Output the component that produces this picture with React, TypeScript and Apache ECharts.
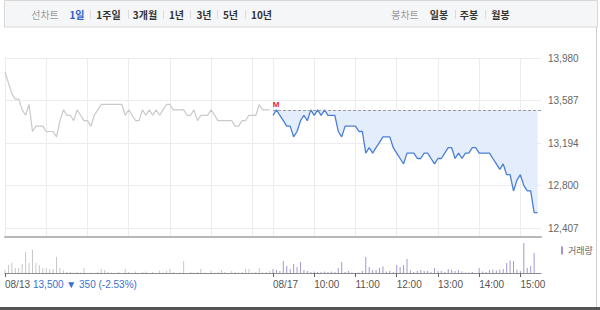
import React, { useEffect, useRef } from 'react';
import * as echarts from 'echarts';

// ---- data ----
const days = ['08/13', '08/17'];
const prevDayClose = 13850; // close of the session before 08/13
const yMin = 12407;
const yMax = 13980;
const hourLabels = ['10:00', '11:00', '12:00', '13:00', '14:00', '15:00'];
const tabLeft = ['1일', '1주일', '3개월', '1년', '3년', '5년', '10년'];
const tabRight = ['일봉', '주봉', '월봉'];

// 5-minute prices, 08/13 (09:00 .. 15:25)
const day1Prices = [
  13850, 13750, 13650, 13600, 13600, 13500, 13450, 13550, 13300, 13350,
  13350, 13350, 13300, 13300, 13300, 13250, 13400, 13500, 13450, 13450,
  13400, 13500, 13450, 13400, 13400, 13350, 13450, 13500, 13550, 13550,
  13550, 13550, 13550, 13550, 13550, 13450, 13500, 13450, 13400, 13400,
  13500, 13450, 13500, 13450, 13500, 13450, 13500, 13550, 13550, 13500,
  13500, 13500, 13500, 13450, 13450, 13500, 13400, 13450, 13450, 13450,
  13500, 13450, 13400, 13400, 13400, 13400, 13400, 13350, 13350, 13400,
  13400, 13450, 13450, 13450, 13550, 13500, 13500, 13500,
];
// 5-minute prices, 08/17 (09:00 .. 15:25)
const day2Prices = [
  13450, 13500, 13450, 13400, 13350, 13350, 13250, 13300, 13400, 13450,
  13400, 13500, 13450, 13500, 13450, 13500, 13450, 13450, 13450, 13300,
  13250, 13350, 13350, 13350, 13350, 13300, 13300, 13100, 13150, 13100,
  13150, 13200, 13250, 13250, 13250, 13150, 13100, 13050, 13000, 13100,
  13100, 13100, 13050, 13050, 13100, 13100, 13050, 13000, 13050, 13050,
  13100, 13150, 13150, 13050, 13100, 13050, 13100, 13100, 13150, 13150,
  13100, 13100, 13100, 13100, 13050, 13000, 12950, 13000, 12900, 12900,
  12750, 12850, 12900, 12800, 12750, 12750, 12550, 12550,
];
// relative volume per 5 minutes
const day1Volume = [
  3.3, 8, 10, 5, 5, 9, 21, 10, 23, 10,
  8, 5, 5, 4, 4, 16, 5, 2.5, 1, 1,
  0.5, 1, 0.5, 5, 0, 0.5, 0, 1, 4, 3,
  1, 0.5, 0, 1, 0, 4, 1, 0, 1.5, 0,
  1, 1.5, 0, 1, 0, 2.5, 0.5, 2, 4, 1,
  0, 0.5, 12, 0, 1, 0.5, 1, 4, 0.5, 0,
  2.5, 0.5, 1, 3, 1, 0, 2, 1, 0.5, 1,
  4, 4, 0.5, 1, 5, 0.5, 1, 2,
];
const day2Volume = [
  4, 3, 2, 12, 7, 4, 9, 6, 11, 3,
  2, 1, 1.5, 1, 1, 1.5, 1, 1.5, 1, 5,
  11, 1, 2, 0.5, 0, 0.5, 2, 16, 6, 3,
  3, 5, 6.5, 1.5, 2, 1, 8, 6, 8, 14,
  2.5, 1, 2, 3, 2, 2, 1, 5, 2, 2,
  1, 4, 3.5, 2, 3, 1.5, 0.5, 0.5, 1, 0,
  5, 1.5, 1, 3, 3.5, 2.5, 3.5, 4, 10, 12.5,
  12, 3.5, 2, 30, 5, 7, 20, 0,
];

// ---- derived ----
const binsPerDay = 78;
const pad = (n: number) => String(n).padStart(2, '0');
const fmtTime = (m: number) => `${pad(Math.floor(m / 60))}:${pad(m % 60)}`;
const categories: string[] = [];
days.forEach((d) => {
  for (let k = 0; k < binsPerDay; k++) categories.push(`${d} ${fmtTime(540 + 5 * k)}`);
});
categories.push(`${days[1]} ${fmtTime(540 + 5 * binsPerDay)}`);
const N = categories.length;

const toT = (p: number) => p - yMin;
const base = day1Prices[day1Prices.length - 1];
const day1Line = categories.map((_, i) => (i < day1Prices.length ? toT(day1Prices[i]) : null));
const d2 = (i: number) => (i >= binsPerDay && i - binsPerDay < day2Prices.length ? day2Prices[i - binsPerDay] : null);
const day2Line = categories.map((_, i) => { const v = d2(i); return v == null ? null : toT(v); });
const fillUpper = categories.map((_, i) => { const v = d2(i); return v == null ? null : base - v; });
const vol1 = categories.map((_, i) => (i < day1Volume.length ? day1Volume[i] : null));
const vol2 = categories.map((_, i) => (i >= binsPerDay && i - binsPerDay < day2Volume.length ? day2Volume[i - binsPerDay] : null));
const dayHigh = Math.max(...day2Prices);

const change = base - prevDayClose;
const pct = (change / prevDayClose) * 100;
const infoText = `${base.toLocaleString('en-US')} ${change < 0 ? '▼' : '▲'} ${Math.abs(change)} (${pct.toFixed(2)}%)`;

const isHour = (val: string) => val.split(' ')[1].endsWith(':00');
const splitFn = (_i: number, val: string) => isHour(val);
const labelFn = (_i: number, val: string) => {
  const [d, t] = val.split(' ');
  return t === '09:00' || (d === days[1] && hourLabels.includes(t));
};

const numFont = "'Liberation Sans', Arial, sans-serif";
const krFont = "'Noto Sans CJK KR', 'Liberation Sans', sans-serif";

export default function App() {
  const ref = useRef<HTMLDivElement>(null);
  useEffect(() => {
    if (!ref.current) return;
    const chart = echarts.init(ref.current, undefined, { renderer: 'svg' });

    const leftCenters = [77, 108.5, 145, 176.5, 204, 230.5, 261.5];
    const leftSeps = [90, 128, 163, 190, 217, 245];
    const rightCenters = [439, 469, 500.5];
    const rightSeps = [455, 485];
    const txt = (text: string, x: number, y: number, fill: string, font: string, align = 'center') => ({
      type: 'text', silent: true,
      style: { text, x, y, fill, font, align, verticalAlign: 'middle', textAlign: align, textVerticalAlign: 'middle' },
    });
    const graphics: any[] = [
      { type: 'rect', shape: { x: 4.5, y: 0.5, width: 593, height: 26.5 }, style: { fill: '#f5f6f8', stroke: '#d8d8d8', lineWidth: 1 }, silent: true },
      txt('선차트', 45, 14.5, '#9a9a9a', `10px ${krFont}`),
      txt('봉차트', 405, 14.5, '#9a9a9a', `10px ${krFont}`),
      { type: 'line', shape: { x1: 596.5, y1: 27, x2: 596.5, y2: 307 }, style: { stroke: '#d0d0d0', lineWidth: 1 }, silent: true },
      { type: 'rect', shape: { x: 0, y: 307, width: 600, height: 3 }, style: { fill: '#555' }, silent: true },
      txt(infoText, 33, 284.5, '#3a6fcf', `10px ${numFont}`, 'left'),
    ];
    tabLeft.forEach((t, i) => graphics.push(txt(t, leftCenters[i], 14.5, i === 0 ? '#2b5fc9' : '#333', `bold 10px ${krFont}`)));
    tabRight.forEach((t, i) => graphics.push(txt(t, rightCenters[i], 14.5, '#333', `bold 10px ${krFont}`)));
    [...leftSeps, ...rightSeps].forEach((x) => {
      graphics.push({ type: 'line', shape: { x1: x + 0.5, y1: 10, x2: x + 0.5, y2: 19 }, style: { stroke: '#dcdcdc', lineWidth: 1 }, silent: true });
    });

    chart.setOption({
      animation: false,
      grid: [
        { left: 5, right: 59, top: 58, height: 179 }, // frame: vertical lines + bottom axis
        { left: 5, right: 59, top: 58, height: 170 }, // price scale
        { left: 5, right: 59, top: 240, height: 33 }, // volume
      ],
      legend: {
        data: ['거래량'],
        left: 556,
        top: 241,
        icon: 'rect',
        itemWidth: 2,
        itemHeight: 8,
        itemGap: 4,
        textStyle: { fontSize: 9, color: '#666', fontFamily: krFont },
        selectedMode: false,
      },
      xAxis: [
        {
          type: 'category', gridIndex: 0, data: categories, boundaryGap: false,
          axisLine: { lineStyle: { color: '#b8b8b8', width: 2 } },
          axisTick: { show: false }, axisLabel: { show: false },
          splitLine: { show: true, interval: splitFn, lineStyle: { color: '#ececec', width: 1 } },
        },
        { type: 'category', gridIndex: 1, data: categories, boundaryGap: false, show: false },
        {
          type: 'category', gridIndex: 2, data: categories, boundaryGap: false,
          axisLine: { lineStyle: { color: '#8c8c8c', width: 1 } },
          axisTick: { show: true, interval: labelFn, length: 4, lineStyle: { color: '#666' } },
          axisLabel: {
            interval: labelFn,
            formatter: (val: string) => { const [d, t] = val.split(' '); return t === '09:00' ? d : t; },
            color: '#555', fontSize: 10, fontFamily: numFont, align: 'left', margin: 6,
          },
          splitLine: { show: false },
        },
      ],
      yAxis: [
        { type: 'value', gridIndex: 0, min: 0, max: 1, show: false },
        {
          type: 'value', gridIndex: 1, position: 'right',
          min: 0, max: toT(yMax), interval: (yMax - yMin) / 4,
          axisLine: { show: false }, axisTick: { show: false },
          axisLabel: {
            margin: 7, color: '#666', fontSize: 10, fontFamily: numFont,
            formatter: (v: number) => Math.round(v + yMin).toLocaleString('en-US'),
          },
          splitLine: { lineStyle: { color: '#ececec', width: 1 } },
        },
        { type: 'value', gridIndex: 2, min: 0, max: 33, show: false },
      ],
      series: [
        {
          name: 'fillBase', type: 'line', xAxisIndex: 1, yAxisIndex: 1, stack: 'fill', data: day2Line,
          showSymbol: false, lineStyle: { opacity: 0 }, silent: true,
        },
        {
          name: 'fillTop', type: 'line', xAxisIndex: 1, yAxisIndex: 1, stack: 'fill', data: fillUpper,
          showSymbol: false, lineStyle: { opacity: 0 }, areaStyle: { color: '#e3edfb', opacity: 1 }, silent: true,
        },
        {
          name: days[0], type: 'line', xAxisIndex: 1, yAxisIndex: 1, data: day1Line,
          showSymbol: false, lineStyle: { color: '#c9c9c9', width: 1.2 }, itemStyle: { color: '#c9c9c9' }, silent: true,
        },
        {
          name: days[1], type: 'line', xAxisIndex: 1, yAxisIndex: 1, data: day2Line,
          showSymbol: false, lineStyle: { color: '#4a7fd6', width: 1.3 }, itemStyle: { color: '#4a7fd6' }, silent: true,
          markLine: {
            silent: true, symbol: 'none', label: { show: false },
            lineStyle: { color: '#9a9a9a', type: [3, 2], width: 1 },
            data: [[{ xAxis: categories[binsPerDay], yAxis: toT(base) }, { xAxis: categories[N - 1], yAxis: toT(base) }]],
          },
          markPoint: {
            silent: true, symbol: 'circle', symbolSize: 1, itemStyle: { color: 'rgba(0,0,0,0)' },
            label: { show: true, position: 'inside', formatter: 'M', color: '#e8262b', fontSize: 8, fontWeight: 'bold', fontFamily: numFont, offset: [3, -5] },
            data: [{ coord: [categories[binsPerDay], toT(dayHigh)] }],
          },
        },
        {
          name: 'vol1', type: 'bar', xAxisIndex: 2, yAxisIndex: 2, data: vol1, barWidth: 1, barGap: '-100%',
          itemStyle: { color: '#c6c6c6' }, silent: true,
        },
        {
          name: '거래량', type: 'bar', xAxisIndex: 2, yAxisIndex: 2, data: vol2, barWidth: 1, barGap: '-100%',
          itemStyle: { color: '#a597d0' }, silent: true,
        },
      ],
      graphic: graphics,
    });
    return () => chart.dispose();
  }, []);
  return <div ref={ref} style={{ position: 'fixed', left: 0, top: 0, width: 600, height: 310, background: '#fff' }} />;
}
